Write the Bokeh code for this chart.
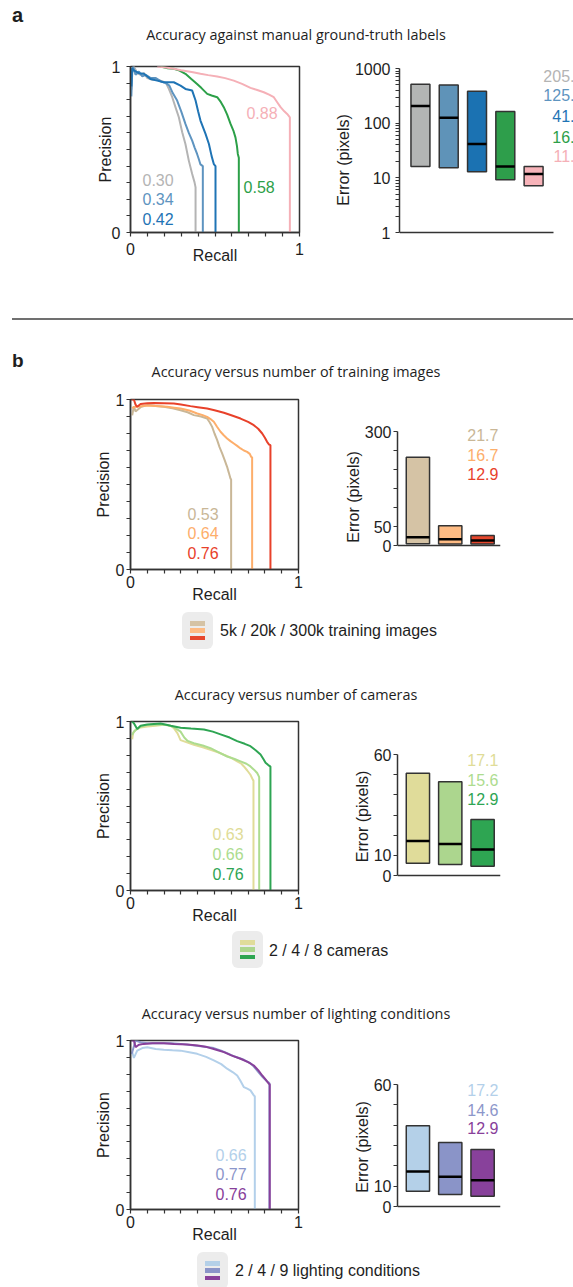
from bokeh.plotting import figure
from bokeh.models import Div, FixedTicker, Label, Range1d, PrintfTickFormatter
from bokeh.layouts import column, row
from bokeh.embed import file_html
from bokeh.resources import INLINE
from bokeh.core.properties import value

# ---------------- data ----------------
# Panel a: precision-recall curves
a_gray_r = [0.005, 0.01, 0.02, 0.04, 0.06, 0.08, 0.10, 0.13, 0.16, 0.19, 0.21, 0.227, 0.247, 0.266, 0.286, 0.306, 0.325, 0.345, 0.365, 0.379, 0.385, 0.385]
a_gray_p = [0.86, 0.97, 1.0, 0.96, 0.95, 0.96, 0.93, 0.92, 0.92, 0.91, 0.90, 0.865, 0.815, 0.755, 0.694, 0.604, 0.533, 0.433, 0.352, 0.302, 0.272, 0.0]
a_steel_r = [0.005, 0.01, 0.015, 0.03, 0.05, 0.07, 0.09, 0.12, 0.15, 0.18, 0.21, 0.23, 0.25, 0.276, 0.30, 0.325, 0.345, 0.365, 0.38, 0.394, 0.405, 0.414, 0.428, 0.428]
a_steel_p = [0.82, 0.96, 1.0, 0.95, 0.97, 0.94, 0.95, 0.93, 0.93, 0.91, 0.90, 0.885, 0.84, 0.795, 0.73, 0.654, 0.60, 0.553, 0.51, 0.473, 0.44, 0.41, 0.40, 0.0]
a_blue_r = [0.005, 0.01, 0.02, 0.05, 0.079, 0.10, 0.118, 0.158, 0.197, 0.256, 0.296, 0.325, 0.365, 0.385, 0.40, 0.414, 0.444, 0.464, 0.48, 0.493, 0.503, 0.503]
a_blue_p = [0.88, 0.99, 0.976, 0.96, 0.956, 0.94, 0.925, 0.915, 0.905, 0.905, 0.885, 0.865, 0.855, 0.795, 0.73, 0.674, 0.594, 0.533, 0.46, 0.412, 0.40, 0.0]
a_green_r = [0.178, 0.22, 0.256, 0.29, 0.325, 0.36, 0.394, 0.42, 0.454, 0.48, 0.513, 0.535, 0.552, 0.572, 0.592, 0.61, 0.621, 0.63, 0.635, 0.641, 0.641]
a_green_p = [1.0, 0.99, 0.986, 0.975, 0.956, 0.925, 0.895, 0.87, 0.835, 0.825, 0.815, 0.785, 0.755, 0.71, 0.654, 0.61, 0.573, 0.52, 0.473, 0.45, 0.0]
a_pink_r = [0.158, 0.2, 0.256, 0.30, 0.335, 0.37, 0.414, 0.46, 0.513, 0.56, 0.611, 0.66, 0.71, 0.75, 0.789, 0.82, 0.848, 0.868, 0.888, 0.91, 0.927, 0.943, 0.943]
a_pink_p = [1.0, 0.995, 0.986, 0.978, 0.972, 0.965, 0.956, 0.948, 0.94, 0.93, 0.915, 0.895, 0.871, 0.858, 0.845, 0.83, 0.815, 0.785, 0.755, 0.73, 0.714, 0.694, 0.0]
a_auc = ["0.30", "0.34", "0.42", "0.58", "0.88"]
a_colors = ["#b4b4b4", "#5e94c0", "#1f74b5", "#2ca048", "#f5b0b7"]
# Panel a: error bars (log scale)
a_low = [16.2, 15.3, 12.9, 9.2, 7.2]
a_high = [516, 500, 385, 164, 16.2]
a_median = [205.4, 125.3, 41.6, 16.2, 11.8]
a_bar_colors = ["#b3b5b4", "#5f93b8", "#1b72b2", "#2e9e4b", "#f7b3b9"]

# Panel b1: training images
b1_tan_r = [0.01, 0.02, 0.03, 0.06, 0.10, 0.15, 0.198, 0.25, 0.298, 0.34, 0.377, 0.42, 0.456, 0.472, 0.486, 0.50, 0.516, 0.53, 0.546, 0.56, 0.575, 0.585, 0.595, 0.599, 0.599]
b1_tan_p = [0.907, 0.96, 0.93, 0.955, 0.967, 0.962, 0.957, 0.948, 0.937, 0.925, 0.908, 0.90, 0.888, 0.865, 0.839, 0.80, 0.761, 0.72, 0.682, 0.645, 0.604, 0.57, 0.535, 0.53, 0.0]
b1_orange_r = [0.01, 0.03, 0.06, 0.10, 0.15, 0.218, 0.26, 0.298, 0.35, 0.397, 0.43, 0.456, 0.476, 0.496, 0.515, 0.536, 0.555, 0.575, 0.595, 0.615, 0.635, 0.655, 0.675, 0.694, 0.71, 0.718, 0.724, 0.724]
b1_orange_p = [0.95, 0.957, 0.96, 0.965, 0.962, 0.957, 0.952, 0.947, 0.935, 0.918, 0.908, 0.898, 0.885, 0.869, 0.84, 0.81, 0.79, 0.771, 0.755, 0.741, 0.727, 0.712, 0.70, 0.692, 0.68, 0.663, 0.66, 0.0]
b1_red_r = [0.005, 0.02, 0.03, 0.04, 0.06, 0.10, 0.139, 0.20, 0.258, 0.30, 0.357, 0.40, 0.456, 0.50, 0.556, 0.60, 0.655, 0.70, 0.734, 0.76, 0.784, 0.80, 0.813, 0.825, 0.833, 0.833]
b1_red_p = [1.0, 1.0, 0.97, 0.957, 0.973, 0.978, 0.98, 0.978, 0.976, 0.97, 0.961, 0.955, 0.947, 0.937, 0.922, 0.907, 0.888, 0.868, 0.849, 0.828, 0.80, 0.775, 0.751, 0.735, 0.731, 0.0]
b1_auc = ["0.53", "0.64", "0.76"]
b1_colors = ["#c9b797", "#fdae6b", "#e8412a"]
b1_low = [4.5, 4.0, 4.0]
b1_high = [232, 52, 26]
b1_median = [21.7, 16.7, 12.9]
b1_bar_colors = ["#d5c3a5", "#fdbb84", "#e6472d"]
b1_legend = "5k / 20k / 300k training images"

# Panel b2: cameras
b2_yellow_r = [0.01, 0.015, 0.03, 0.06, 0.10, 0.15, 0.198, 0.24, 0.258, 0.28, 0.298, 0.34, 0.377, 0.43, 0.476, 0.52, 0.556, 0.60, 0.635, 0.66, 0.675, 0.695, 0.714, 0.728, 0.732, 0.732]
b2_yellow_p = [0.895, 0.93, 0.95, 0.965, 0.97, 0.975, 0.98, 0.975, 0.961, 0.93, 0.89, 0.875, 0.862, 0.848, 0.832, 0.818, 0.803, 0.785, 0.764, 0.75, 0.734, 0.71, 0.685, 0.656, 0.65, 0.0]
b2_lgreen_r = [0.01, 0.02, 0.05, 0.10, 0.15, 0.218, 0.26, 0.298, 0.32, 0.34, 0.377, 0.43, 0.476, 0.52, 0.575, 0.62, 0.655, 0.69, 0.714, 0.735, 0.754, 0.764, 0.766, 0.766]
b2_lgreen_p = [0.92, 0.94, 0.965, 0.98, 0.982, 0.98, 0.965, 0.94, 0.905, 0.885, 0.871, 0.858, 0.842, 0.82, 0.793, 0.778, 0.764, 0.75, 0.734, 0.715, 0.695, 0.675, 0.67, 0.0]
b2_green_r = [0.005, 0.01, 0.02, 0.04, 0.06, 0.10, 0.179, 0.24, 0.298, 0.36, 0.437, 0.49, 0.536, 0.59, 0.635, 0.68, 0.714, 0.745, 0.774, 0.79, 0.804, 0.82, 0.829, 0.833, 0.833]
b2_green_p = [1.0, 1.0, 0.99, 0.955, 0.975, 0.982, 0.988, 0.975, 0.963, 0.958, 0.953, 0.94, 0.924, 0.905, 0.884, 0.868, 0.854, 0.83, 0.805, 0.78, 0.756, 0.742, 0.736, 0.733, 0.0]
b2_auc = ["0.63", "0.66", "0.76"]
b2_colors = ["#e0dc98", "#addc8f", "#2ea553"]
b2_low = [6.1, 5.5, 4.6]
b2_high = [50.7, 46.5, 27.8]
b2_median = [17.1, 15.6, 12.9]
b2_bar_colors = ["#e0dc9a", "#acd68e", "#2ea552"]
b2_legend = "2 / 4 / 8 cameras"

# Panel b3: lighting conditions
b3_lblue_r = [0.01, 0.02, 0.04, 0.07, 0.10, 0.15, 0.198, 0.25, 0.298, 0.35, 0.397, 0.45, 0.496, 0.54, 0.575, 0.61, 0.635, 0.655, 0.675, 0.695, 0.714, 0.734, 0.74, 0.74]
b3_lblue_p = [0.93, 0.897, 0.94, 0.955, 0.96, 0.95, 0.945, 0.942, 0.94, 0.93, 0.921, 0.903, 0.882, 0.86, 0.833, 0.812, 0.793, 0.76, 0.724, 0.715, 0.705, 0.675, 0.67, 0.0]
b3_peri_r = [0.005, 0.01, 0.03, 0.06, 0.10, 0.17, 0.238, 0.30, 0.357, 0.43, 0.496, 0.54, 0.575, 0.62, 0.675, 0.71, 0.734, 0.76, 0.784, 0.80, 0.813, 0.825, 0.827, 0.827]
b3_peri_p = [0.92, 0.931, 1.0, 0.99, 0.984, 0.984, 0.984, 0.98, 0.974, 0.965, 0.955, 0.94, 0.925, 0.905, 0.886, 0.868, 0.846, 0.815, 0.787, 0.77, 0.758, 0.75, 0.745, 0.0]
b3_purple_r = [0.005, 0.02, 0.03, 0.05, 0.079, 0.13, 0.198, 0.26, 0.337, 0.40, 0.456, 0.51, 0.556, 0.60, 0.655, 0.70, 0.734, 0.76, 0.784, 0.805, 0.823, 0.829, 0.829]
b3_purple_p = [1.0, 1.0, 0.961, 0.975, 0.98, 0.983, 0.984, 0.98, 0.976, 0.97, 0.961, 0.945, 0.931, 0.912, 0.892, 0.872, 0.852, 0.825, 0.793, 0.768, 0.744, 0.74, 0.0]
b3_auc = ["0.66", "0.77", "0.76"]
b3_colors = ["#b3d0ea", "#8c96ca", "#88409a"]
b3_low = [7.5, 5.9, 5.1]
b3_high = [39.7, 31.5, 28.0]
b3_median = [17.2, 14.6, 12.9]
b3_bar_colors = ["#b4d0e8", "#8a94c8", "#88419b"]
b3_legend = "2 / 4 / 9 lighting conditions"

# ---------------- styling helpers ----------------
TF = "Liberation Sans"
HF = "Open Sans"
AX = "#333333"
TXT = "#1e1e1e"
W = 565
HS = 14.4  # heading font size


def style_axes(p, tick_standoff, label_standoff):
    for ax in p.axis:
        ax.axis_line_color = AX
        ax.axis_line_width = 1.5
        ax.major_tick_line_color = AX
        ax.minor_tick_line_color = AX
        ax.major_tick_line_width = 1.2
        ax.minor_tick_line_width = 1.2
        ax.major_tick_in = 0
        ax.major_tick_out = 4
        ax.minor_tick_in = 0
        ax.minor_tick_out = 4
        ax.major_label_text_font = TF
        ax.major_label_text_font_size = "16px"
        ax.major_label_text_color = TXT
        ax.major_label_standoff = tick_standoff
        ax.axis_label_text_font = TF
        ax.axis_label_text_font_size = "16px"
        ax.axis_label_text_font_style = "normal"
        ax.axis_label_text_color = TXT
        ax.axis_label_standoff = label_standoff


def pr_figure(rs, ps, colors, aucs, lab_x, lab_y, top, frame_h, bottom, right,
              tick_standoff, xlab_standoff, ylab_standoff):
    p = figure(width=302, height=top + frame_h + bottom,
               x_range=Range1d(0, 1), y_range=Range1d(0, 1),
               output_backend="svg", toolbar_location=None, frame_align=False,
               min_border_left=122, min_border_right=right,
               min_border_top=top, min_border_bottom=bottom)
    p.xgrid.visible = False
    p.ygrid.visible = False
    p.outline_line_color = AX
    p.outline_line_width = 1.5
    p.outline_line_alpha = 1
    for r, pr, c in zip(rs, ps, colors):
        p.line(r, pr, line_color=c, line_width=2)
    ticker = FixedTicker(ticks=[0, 1], minor_ticks=[0.1, 0.2, 0.3, 0.4, 0.5, 0.6, 0.7, 0.8, 0.9])
    p.xaxis.ticker = ticker
    p.yaxis.ticker = ticker
    p.xaxis.axis_label = "Recall"
    p.yaxis.axis_label = "Precision"
    style_axes(p, tick_standoff, 0)
    p.xaxis.axis_label_standoff = xlab_standoff
    p.yaxis.axis_label_standoff = ylab_standoff
    p.text(x=lab_x, y=lab_y, text=aucs, text_color=colors,
           text_font=value(TF), text_font_size="16px", text_baseline="middle")
    return p


def bar_figure_lin(low, high, med, colors, ymax, ticks, shown, row_h,
                   axis_top, axis_bottom, label_center, ext, lab_y, lab_colors):
    # pixel layout (relative to the row top): the axis spans axis_top..axis_bottom; the
    # frame is larger so that the value labels are not clipped and the axis title is centred
    # where the reference has it.
    px = (axis_bottom - axis_top) / ymax
    f_top = axis_top - ext
    f_bot = round(2 * label_center - f_top)
    pos = list(range(1, len(low) + 1))
    p = figure(width=263, height=row_h,
               x_range=Range1d(0.369, 3.554),
               y_range=Range1d(-(f_bot - axis_bottom) / px, ymax + ext / px),
               output_backend="svg", toolbar_location=None, frame_align=False,
               min_border_left=87, min_border_right=73,
               min_border_top=f_top, min_border_bottom=row_h - f_bot)
    p.xgrid.visible = False
    p.ygrid.visible = False
    p.outline_line_color = None
    w = 0.72
    p.vbar(x=pos, width=w, bottom=low, top=high, fill_color=colors,
           line_color=AX, line_width=1.5)
    p.segment(x0=[x - w / 2 for x in pos], x1=[x + w / 2 for x in pos], y0=med, y1=med,
              line_color="black", line_width=2.5)
    p.yaxis.ticker = FixedTicker(ticks=ticks)
    p.yaxis.bounds = (0, ymax)
    p.yaxis.major_label_overrides = {t: "" for t in ticks if t not in shown}
    p.xaxis.ticker = FixedTicker(ticks=[])
    p.xaxis.fixed_location = 0
    p.yaxis.axis_label = "Error (pixels)"
    style_axes(p, 2, 0)
    p.text(x=[3.49] * len(med), y=lab_y, text=[f"{m:.1f}" for m in med],
           text_color=lab_colors, text_font=value(TF), text_font_size="16px",
           text_align="right", text_baseline="middle")
    return p


def span(text, left, top, size, font, color=TXT, weight="normal", center=False, lh=None):
    tr = "transform:translateX(-50%);" if center else ""
    lh = size if lh is None else lh
    return (f'<span style="position:absolute;left:{left}px;top:{top}px;font-family:\'{font}\';'
            f'font-size:{size}px;line-height:{lh}px;color:{color};font-weight:{weight};'
            f'white-space:nowrap;{tr}">{text}</span>')


def legend_box(left, top, colors):
    bars = "".join(
        f'<div style="position:absolute;left:8px;top:{9 + i * 7.3:.1f}px;width:15px;height:4.5px;background:{c}"></div>'
        for i, c in enumerate(colors))
    return (f'<div style="position:absolute;left:{left}px;top:{top}px;width:31px;height:37px;'
            f'border-radius:6px;background:#ececec">{bars}</div>')


def make_div(h, inner, overflow="hidden"):
    html = f'<div style="position:relative;width:{W}px;height:{h}px;overflow:{overflow}">{inner}</div>'
    return Div(text=html, width=W, height=h, margin=(0, 0, 0, 0))


# ---------------- panel a ----------------
div_a = make_div(37, span("a", 4, 0, 20, TF, weight="bold", lh=14)
                 + span("Accuracy against manual ground-truth labels", 288, 20, HS, HF, center=True),
                 overflow="visible")

pr_a = pr_figure([a_gray_r, a_steel_r, a_blue_r, a_green_r, a_pink_r],
                 [a_gray_p, a_steel_p, a_blue_p, a_green_p, a_pink_p],
                 a_colors, a_auc,
                 [0.071, 0.071, 0.071, 0.669, 0.686], [0.319, 0.199, 0.084, 0.277, 0.717],
                 21, 166, 43, 11, 6, -11, -5)

# log-scale bar chart: axis 1..1000 spans rows 23..187 px, frame 21..208 px
dec_px = (187 - 23) / 3
pos_a = list(range(1, len(a_low) + 1))
bar_a = figure(width=263, height=230, x_range=Range1d(0.26, 6.41),
               y_range=Range1d(10 ** (-(208 - 187) / dec_px), 10 ** (3 + 2 / dec_px)),
               y_axis_type="log", output_backend="svg", toolbar_location=None, frame_align=False,
               min_border_left=89, min_border_right=0, min_border_top=21, min_border_bottom=22)
bar_a.xgrid.visible = False
bar_a.ygrid.visible = False
bar_a.outline_line_color = None
wa = 0.67
bar_a.vbar(x=pos_a, width=wa, bottom=a_low, top=a_high, fill_color=a_bar_colors,
           line_color=AX, line_width=1.5)
bar_a.segment(x0=[x - wa / 2 for x in pos_a], x1=[x + wa / 2 for x in pos_a], y0=a_median, y1=a_median,
              line_color="black", line_width=2.5)
bar_a.yaxis.ticker = FixedTicker(ticks=[1, 10, 100, 1000],
                                 minor_ticks=[m * 10 ** e for e in range(3) for m in range(2, 10)])
bar_a.yaxis.formatter = PrintfTickFormatter(format="%d")
bar_a.yaxis.bounds = (1, 1000)
bar_a.xaxis.ticker = FixedTicker(ticks=[])
bar_a.xaxis.bounds = (0.26, 5.71)
bar_a.xaxis.fixed_location = 1
bar_a.yaxis.axis_label = "Error (pixels)"
style_axes(bar_a, 5, 0)
for m, c, yv in zip(a_median, a_colors, [741, 321, 133, 57, 24.6]):
    bar_a.add_layout(Label(x=6.76, y=yv, text=f"{m:.1f}", text_color=c, text_font=TF,
                           text_font_size="16px", text_align="right", text_baseline="middle"))

# ---------------- panel b ----------------
div_b = make_div(110,
                 '<div style="position:absolute;left:4px;top:43px;width:561px;height:2px;background:#707070"></div>'
                 + span("b", 4, 79, 19, TF, weight="bold", lh=14)
                 + span("Accuracy versus number of training images", 288, 90, HS, HF, center=True))

pr_b1 = pr_figure([b1_tan_r, b1_orange_r, b1_red_r], [b1_tan_p, b1_orange_p, b1_red_p],
                  b1_colors, b1_auc, [0.339] * 3, [0.329, 0.212, 0.10],
                  14, 170, 38, 12, 2, -5, 1)
bar_b1 = bar_figure_lin(b1_low, b1_high, b1_median, b1_bar_colors, 300,
                        [0, 50, 100, 150, 200, 250, 300], [0, 50, 300], 222,
                        46, 160, 111.5, 12, [289.5, 237, 187], b1_colors)

div_l1 = make_div(99, legend_box(174, 5, b1_bar_colors) + span(b1_legend, 212, 16, 16, TF)
                  + span("Accuracy versus number of cameras", 288, 81, HS, HF, center=True))

pr_b2 = pr_figure([b2_yellow_r, b2_lgreen_r, b2_green_r], [b2_yellow_p, b2_lgreen_p, b2_green_p],
                  b2_colors, b2_auc, [0.488] * 3, [0.333, 0.215, 0.10],
                  15, 169, 38, 12, 2, -5, 1)
bar_b2 = bar_figure_lin(b2_low, b2_high, b2_median, b2_bar_colors, 60,
                        [0, 10, 20, 30, 40, 50, 60], [0, 10, 60], 222,
                        48, 169, 110, 10, [57.5, 47.6, 37.7], b2_colors)

div_l2 = make_div(98, legend_box(224, 3, b2_bar_colors) + span(b2_legend, 261, 15, 16, TF)
                  + span("Accuracy versus number of lighting conditions", 288, 79, HS, HF, center=True))

pr_b3 = pr_figure([b3_lblue_r, b3_peri_r, b3_purple_r], [b3_lblue_p, b3_peri_p, b3_purple_p],
                  b3_colors, b3_auc, [0.506] * 3, [0.322, 0.209, 0.093],
                  14, 169, 38, 12, 2, -5, 1)
bar_b3 = bar_figure_lin(b3_low, b3_high, b3_median, b3_bar_colors, 60,
                        [0, 10, 20, 30, 40, 50, 60], [0, 10, 60], 221,
                        58, 180, 120.7, 10, [57.5, 47.7, 38.4], b3_colors)

div_l3 = make_div(40, legend_box(189, 5, b3_bar_colors) + span(b3_legend, 227, 16, 16, TF))

layout = column(div_a, row(pr_a, bar_a, spacing=0), div_b, row(pr_b1, bar_b1, spacing=0),
                div_l1, row(pr_b2, bar_b2, spacing=0), div_l2, row(pr_b3, bar_b3, spacing=0),
                div_l3, spacing=0, margin=(8, 0, 0, 8))

open("out.html", "w").write(file_html(layout, INLINE))
